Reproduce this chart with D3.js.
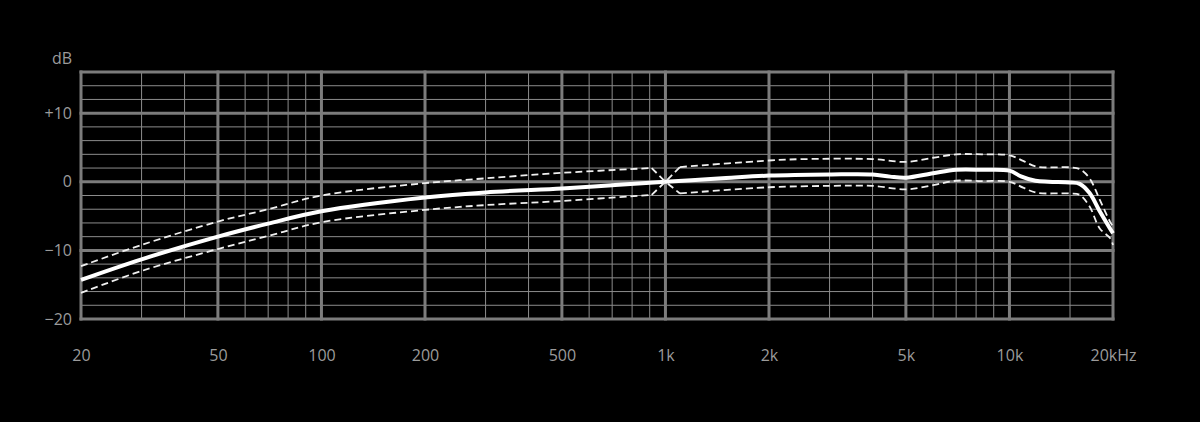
<!DOCTYPE html>
<html><head><meta charset="utf-8">
<script src="https://cdn.jsdelivr.net/npm/d3@7"></script>
<style>html,body{margin:0;padding:0;background:#000;}svg{display:block;}</style>
</head><body>
<script>
// ---- data ----
const mainFreq = [20, 30, 50, 70, 100, 200, 300, 500, 700, 1000, 1500, 2000, 3000, 4000, 4500, 5000, 6000, 7000, 8300, 10000, 10800, 11900, 13000, 15000, 16000, 17100, 18300, 19600, 20000];
const mainDb   = [-14.3, -11.3, -8.0, -6.1, -4.3, -2.3, -1.55, -0.97, -0.5, 0, 0.55, 0.9, 1.07, 1.07, 0.75, 0.6, 1.25, 1.75, 1.75, 1.62, 0.8, 0.15, 0, -0.1, -0.3, -1.65, -4.3, -6.8, -7.5];

const upperFreq = [20, 30, 50, 70, 100, 200, 300, 500, 912, 1000, 1102, 2000, 2500, 4000, 5000, 6000, 7000, 8300, 10000, 11000, 12000, 15000, 16000, 17100, 18300, 19600, 20000];
const upperDb   = [-12.3, -9.2, -5.8, -4.0, -2.0, -0.2, 0.5, 1.3, 2.0, 0, 2.15, 3.1, 3.3, 3.3, 2.9, 3.5, 4.0, 4.0, 3.85, 3.0, 2.2, 2.1, 1.85, 0.5, -2.6, -5.8, -6.5];

const lowerFreq = [20, 30, 50, 70, 100, 200, 300, 500, 912, 1000, 1102, 2000, 3000, 4000, 5000, 6000, 7000, 8300, 10000, 11000, 12000, 15000, 16000, 17100, 18300, 19600, 20000];
const lowerDb   = [-16.2, -13.0, -9.8, -7.9, -5.9, -4.1, -3.4, -2.8, -1.9, 0, -1.7, -0.8, -0.6, -0.6, -1.1, -0.5, 0.15, 0.1, 0, -0.9, -1.6, -1.7, -1.9, -3.6, -6.8, -8.2, -9.2];

const xTickValues = [20, 50, 100, 200, 500, 1000, 2000, 5000, 10000, 20000];
const xTickLabels = ["20", "50", "100", "200", "500", "1k", "2k", "5k", "10k", "20kHz"];
const xMinorValues = [30, 40, 60, 70, 80, 90, 300, 400, 600, 700, 800, 900, 3000, 4000, 6000, 7000, 8000, 9000, 15000];
const yTickValues = [10, 0, -10, -20];
const yTickLabels = ["+10", "0", "\u221210", "\u221220"];
const yMinorValues = [-18, -16, -14, -12, -8, -6, -4, -2, 2, 4, 6, 8, 12, 14];
const yUnit = "dB";

// ---- layout ----
const W = 1200, H = 422;
const m = {left: 81, right: 1113, top: 72, bottom: 319};
const svg = d3.select("body").append("svg").attr("width", W).attr("height", H).style("background", "#000");

const x = d3.scaleLog().domain([20, 20000]).range([m.left, m.right]);
const y = d3.scaleLinear().domain([-20, 16]).range([m.bottom, m.top]);

const grid = svg.append("g");
const minorColor = "#8c8c8c", majorColor = "#7c7c7c";
grid.selectAll(".vmin").data(xMinorValues).enter().append("line")
  .attr("x1", d => x(d)).attr("x2", d => x(d)).attr("y1", m.top).attr("y2", m.bottom)
  .attr("stroke", minorColor).attr("stroke-width", 1);
grid.selectAll(".hmin").data(yMinorValues).enter().append("line")
  .attr("y1", d => y(d)).attr("y2", d => y(d)).attr("x1", m.left).attr("x2", m.right)
  .attr("stroke", minorColor).attr("stroke-width", 1);
grid.selectAll(".vmaj").data(xTickValues).enter().append("line")
  .attr("x1", d => x(d)).attr("x2", d => x(d)).attr("y1", m.top - 1.5).attr("y2", m.bottom + 1.5)
  .attr("stroke", majorColor).attr("stroke-width", 3);
grid.selectAll(".hmaj").data(yTickValues.concat([16])).enter().append("line")
  .attr("y1", d => y(d)).attr("y2", d => y(d)).attr("x1", m.left - 1.5).attr("x2", m.right + 1.5)
  .attr("stroke", majorColor).attr("stroke-width", 3);

const font = "'Open Sans', 'Noto Sans', sans-serif";
const labelColor = "#9b9b9b";
const xAxis = d3.axisBottom(x).tickValues(xTickValues).tickFormat((d, i) => xTickLabels[i]).tickSize(0).tickPadding(0);
const gx = svg.append("g").attr("transform", `translate(0, 361)`).call(xAxis);
gx.select(".domain").remove();
gx.selectAll("text").attr("fill", labelColor).style("font-family", font).style("font-size", "16px").attr("dy", "0");

const yAxis = d3.axisLeft(y).tickValues(yTickValues).tickFormat((d, i) => yTickLabels[i]).tickSize(0).tickPadding(9);
const gy = svg.append("g").attr("transform", `translate(${m.left}, 0)`).call(yAxis);
gy.select(".domain").remove();
gy.selectAll("text").attr("fill", labelColor).style("font-family", font).style("font-size", "16px");

svg.append("text").attr("x", 72).attr("y", 64).attr("text-anchor", "end")
  .attr("fill", labelColor).style("font-family", font).style("font-size", "16px").text(yUnit);

// ---- curves ----
const pts = (fs, ds) => fs.map((f, i) => [x(f), y(ds[i])]);
const smooth = d3.line().curve(d3.curveCatmullRom.alpha(0.5));
const straight = d3.line();

svg.append("path").attr("d", smooth(pts(mainFreq, mainDb)))
  .attr("fill", "none").attr("stroke", "#fff").attr("stroke-width", 4).attr("stroke-linejoin", "round");

function dashed(fs, ds) {
  const p = pts(fs, ds);
  const k = fs.indexOf(1000);
  const parts = [
    [smooth, p.slice(0, k)],
    [straight, p.slice(k - 1, k + 2)],
    [smooth, p.slice(k + 1)]
  ];
  parts.forEach(([gen, arr]) => {
    svg.append("path").attr("d", gen(arr))
      .attr("fill", "none").attr("stroke", "#f0f0f0").attr("stroke-width", 1.8)
      .attr("stroke-dasharray", "7,4");
  });
}
dashed(upperFreq, upperDb);
dashed(lowerFreq, lowerDb);
</script>
</body></html>
